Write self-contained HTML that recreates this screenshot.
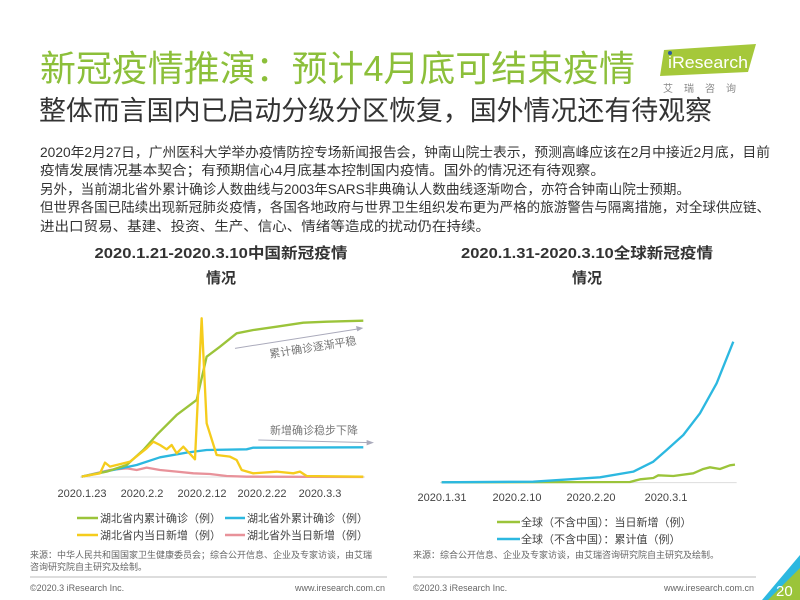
<!DOCTYPE html><html><head><meta charset="utf-8"><style>body{margin:0;background:#fff}svg{display:block;font-family:"Liberation Sans","Noto Sans CJK SC",sans-serif}</style></head><body>
<svg width="800" height="600" viewBox="0 0 800 600" xmlns="http://www.w3.org/2000/svg">
<text x="40" y="81" font-size="36" fill="#8cbf3a" textLength="595" lengthAdjust="spacingAndGlyphs">新冠疫情推演：预计4月底可结束疫情</text>
<polygon points="664,50 756,44 748,72 660,76" fill="#a5c83a"/>
<text x="668" y="68" font-size="17" fill="#fff" textLength="80" lengthAdjust="spacingAndGlyphs">iResearch</text>
<circle cx="670" cy="53" r="2" fill="#2c5aa0"/>
<text x="663" y="92" font-size="10" fill="#888" letter-spacing="11">艾瑞咨询</text>
<text x="39" y="120" font-size="27" fill="#333" textLength="673" lengthAdjust="spacingAndGlyphs">整体而言国内已启动分级分区恢复，国外情况还有待观察</text>
<g font-size="13.5" fill="#333">
<text x="40" y="157" textLength="730" lengthAdjust="spacingAndGlyphs">2020年2月27日，广州医科大学举办疫情防控专场新闻报告会，钟南山院士表示，预测高峰应该在2月中接近2月底，目前</text>
<text x="40" y="175" textLength="565" lengthAdjust="spacingAndGlyphs">疫情发展情况基本契合；有预期信心4月底基本控制国内疫情。国外的情况还有待观察。</text>
<text x="40" y="194" textLength="650" lengthAdjust="spacingAndGlyphs">另外，当前湖北省外累计确诊人数曲线与2003年SARS非典确认人数曲线逐渐吻合，亦符合钟南山院士预期。</text>
<text x="40" y="212" textLength="730" lengthAdjust="spacingAndGlyphs">但世界各国已陆续出现新冠肺炎疫情，各国各地政府与世界卫生组织发布更为严格的旅游警告与隔离措施，对全球供应链、</text>
<text x="40" y="231" textLength="450" lengthAdjust="spacingAndGlyphs">进出口贸易、基建、投资、生产、信心、情绪等造成的扰动仍在持续。</text>
</g>
<g font-size="15" font-weight="bold" fill="#333" text-anchor="middle">
<text x="221" y="258" textLength="253" lengthAdjust="spacingAndGlyphs">2020.1.21-2020.3.10中国新冠疫情</text>
<text x="221" y="283">情况</text>
<text x="587" y="258" textLength="252" lengthAdjust="spacingAndGlyphs">2020.1.31-2020.3.10全球新冠疫情</text>
<text x="587" y="283">情况</text>
</g>
<g transform="translate(60,300) scale(0.3333)" fill="none" stroke-width="7" stroke-linejoin="round">
<line x1="60" y1="531" x2="915" y2="531" stroke="#ddd" stroke-width="3"/>
<polyline stroke="#e8929a" points="65,530 150,510 200,505 230,510 260,503 300,510 350,515 400,520 450,522 500,528 560,530 910,531"/>
<polyline stroke="#2cb8e0" points="65,530 150,512 230,495 300,472 380,458 440,450 560,448 580,443 910,442"/>
<polyline stroke="#9bc43a" points="65,530 140,515 200,495 250,450 290,405 350,345 410,300 440,170 480,140 530,100 580,90 650,80 730,68 800,65 910,62"/>
<polyline stroke="#f5cc1c" points="65,530 120,520 135,488 150,500 210,485 260,445 280,425 300,435 320,448 335,435 350,460 370,440 405,478 425,55 440,370 470,465 510,470 530,480 545,510 580,520 650,515 700,520 720,515 740,528 910,530"/>
<line x1="525" y1="145" x2="900" y2="86" stroke="#aab" stroke-width="3"/>
<polygon points="910,84 888,78 892,94" fill="#aab"/>
<line x1="595" y1="420" x2="930" y2="428" stroke="#aab" stroke-width="3"/>
<polygon points="942,428 920,420 920,436" fill="#aab"/>
</g>
<text x="270" y="358" font-size="11" fill="#777" transform="rotate(-9 270 358)">累计确诊逐渐平稳</text>
<text x="270" y="434" font-size="11" fill="#777">新增确诊稳步下降</text>
<g font-size="11" fill="#444" text-anchor="middle">
<text x="82" y="497">2020.1.23</text><text x="142" y="497">2020.2.2</text><text x="202" y="497">2020.2.12</text><text x="262" y="497">2020.2.22</text><text x="320" y="497">2020.3.3</text>
<text x="442" y="501">2020.1.31</text><text x="517" y="501">2020.2.10</text><text x="591" y="501">2020.2.20</text><text x="666" y="501">2020.3.1</text>
</g>
<g stroke-width="2.5">
<line x1="77" y1="518" x2="98" y2="518" stroke="#9bc43a"/><line x1="225" y1="518" x2="245" y2="518" stroke="#2cb8e0"/>
<line x1="77" y1="535" x2="98" y2="535" stroke="#f5cc1c"/><line x1="225" y1="535" x2="245" y2="535" stroke="#e8929a"/>
<line x1="497" y1="522" x2="520" y2="522" stroke="#9bc43a"/><line x1="497" y1="539" x2="520" y2="539" stroke="#2cb8e0"/>
</g>
<g font-size="11" fill="#444">
<text x="100" y="522">湖北省内累计确诊（例）</text><text x="247" y="522">湖北省外累计确诊（例）</text>
<text x="100" y="539">湖北省内当日新增（例）</text><text x="247" y="539">湖北省外当日新增（例）</text>
<text x="521" y="526">全球（不含中国）：当日新增（例）</text><text x="521" y="543">全球（不含中国）：累计值（例）</text>
</g>
<g transform="translate(400,320) scale(0.3333)" fill="none" stroke-width="7" stroke-linejoin="round">
<line x1="120" y1="488" x2="1010" y2="488" stroke="#ddd" stroke-width="3"/>
<polyline stroke="#9bc43a" points="125,487 690,486 720,478 760,474 775,466 820,468 880,460 910,447 930,442 960,447 990,436 1005,434"/>
<polyline stroke="#2cb8e0" points="125,487 400,485 600,472 700,455 760,425 800,390 850,345 900,280 950,190 1000,65"/>
</g>
<g font-size="9" fill="#666">
<text x="30" y="558">来源：中华人民共和国国家卫生健康委员会；综合公开信息、企业及专家访谈，由艾瑞</text>
<text x="30" y="570">咨询研究院自主研究及绘制。</text>
<text x="413" y="558">来源：综合公开信息、企业及专家访谈，由艾瑞咨询研究院自主研究及绘制。</text>
<text x="30" y="591">©2020.3 iResearch Inc.</text>
<text x="385" y="591" text-anchor="end">www.iresearch.com.cn</text>
<text x="413" y="591">©2020.3 iResearch Inc.</text>
<text x="754" y="591" text-anchor="end">www.iresearch.com.cn</text>
</g>
<line x1="30" y1="577" x2="387" y2="577" stroke="#bbb"/>
<line x1="413" y1="577" x2="756" y2="577" stroke="#bbb"/>
<polygon points="800,555 800,600 762,600" fill="#2cb8e0"/>
<polygon points="800,568 800,600 768,600" fill="#9bc43a"/>
<text x="776" y="596" font-size="15" fill="#fff">20</text>
</svg>
</body></html>
